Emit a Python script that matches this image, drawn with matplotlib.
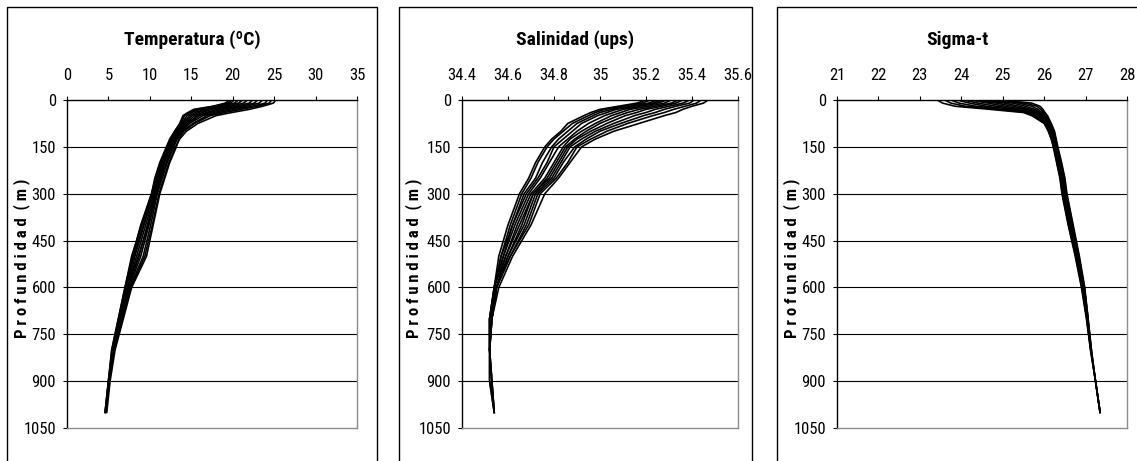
import numpy as np
import matplotlib
matplotlib.use("Agg")
import matplotlib.pyplot as plt
from matplotlib.patches import Rectangle

plt.rcParams["font.family"] = ["Liberation Sans Narrow", "Roboto Condensed", "Liberation Sans", "DejaVu Sans"]

nan = np.nan

# depth levels (m) shared by every cast
depth = [0, 10, 20, 30, 40, 50, 75, 100, 125, 150, 200, 250, 300, 400, 500, 600, 700, 800, 900, 1000]

# temperature (ºC), one list per cast
temp_a = [25.2, 24.9, 23.6, 22.0, 19.9, 18.0, 15.8, 14.4, 13.6, 13.1, 12.3, 11.7, 11.1, 10.3, 9.4, 7.7, 6.7, 5.7, 5.1, 4.7]
temp_b = [24.7, 24.4, 23.0, 21.0, 19.0, 17.3, 15.4, 14.1, 13.5, 13.2, 12.4, 11.8, 11.2, 10.4, 9.6, 7.8, 6.8, 5.8, 5.2, 4.8]
temp_c = [24.2, 23.9, 22.4, 20.2, 18.3, 16.9, 15.2, 13.9, 13.3, 12.9, 12.1, 11.5, 10.9, 10.1, 9.2, 7.6, 6.6, 5.6, 5.0, 4.6]
temp_d = [23.6, 23.2, 21.6, 19.4, 17.7, 16.4, 14.8, 13.8, 13.2, 12.8, 12.0, 11.4, 10.8, 9.9, 8.9, 7.5, 6.5, 5.6, nan, nan]
temp_e = [23.0, 22.6, 21.0, 18.7, 17.2, 16.0, 14.6, 13.7, 13.1, 12.7, 12.0, 11.3, 10.7, 9.7, 8.7, 7.4, 6.5, nan, nan, nan]
temp_f = [22.4, 22.0, 20.3, 18.1, 16.8, 15.7, 14.5, 13.5, 13.0, 12.6, 11.8, 11.2, 10.7, 9.8, 8.6, 7.3, 6.4, 5.5, nan, nan]
temp_g = [21.8, 21.3, 19.7, 17.5, 16.3, 15.4, 14.3, 13.4, 12.9, 12.5, 11.7, 11.1, 10.6, 9.5, 8.4, 7.3, 6.4, nan, nan, nan]
temp_h = [21.2, 20.7, 19.1, 17.0, 15.9, 15.1, 14.1, 13.3, 12.8, 12.4, 11.6, 11.0, 10.5, 9.3, 8.2, 7.2, 6.3, 5.5, nan, nan]
temp_i = [20.7, 20.2, 18.6, 16.5, 15.5, 14.8, 13.9, 13.2, 12.7, 12.3, 11.5, 10.9, 10.4, 9.2, 8.1, 7.1, nan, nan, nan, nan]
temp_j = [20.2, 19.7, 18.1, 16.0, 15.1, 14.5, 13.8, 13.1, 12.6, 12.2, 11.4, 10.8, 10.3, 9.0, 8.0, 7.1, 6.3, nan, nan, nan]
temp_k = [19.9, 19.4, 17.8, 15.6, 14.8, 14.2, 13.7, 13.0, 12.5, 12.1, 11.3, 10.7, 10.2, 8.9, 7.9, 7.0, 6.2, 5.4, 5.0, 4.6]
temp_l = [19.6, 19.1, 17.6, 15.3, 14.6, 14.0, 13.6, 13.0, 12.4, 12.0, 11.2, 10.6, 10.2, 9.0, 7.8, 7.0, 6.2, 5.4, 5.0, 4.6]

# salinity (ups)
sal_a = [35.47, 35.45, 35.40, 35.36, 35.33, 35.28, 35.17, 35.06, 34.98, 34.92, 34.87, 34.82, 34.76, 34.70, 34.62, 34.56, 34.53, 34.52, 34.53, 34.54]
sal_b = [35.44, 35.42, 35.37, 35.32, 35.28, 35.23, 35.12, 35.03, 34.96, 34.90, 34.86, 34.81, 34.74, 34.69, 34.61, 34.55, 34.53, 34.52, 34.52, 34.54]
sal_c = [35.41, 35.39, 35.33, 35.28, 35.24, 35.19, 35.09, 35.00, 34.94, 34.89, 34.84, 34.80, 34.73, 34.68, 34.61, 34.55, 34.52, 34.52, 34.52, 34.54]
sal_d = [35.39, 35.36, 35.30, 35.24, 35.20, 35.15, 35.06, 34.98, 34.92, 34.87, 34.83, 34.79, 34.72, 34.67, 34.60, 34.55, 34.53, 34.52, nan, nan]
sal_e = [35.36, 35.33, 35.27, 35.20, 35.16, 35.11, 35.03, 34.96, 34.90, 34.86, 34.82, 34.78, 34.71, 34.66, 34.60, 34.55, 34.53, nan, nan, nan]
sal_f = [35.34, 35.31, 35.24, 35.17, 35.12, 35.08, 35.00, 34.94, 34.89, 34.85, 34.81, 34.77, 34.71, 34.65, 34.59, 34.55, 34.53, 34.52, nan, nan]
sal_g = [35.31, 35.28, 35.21, 35.13, 35.09, 35.05, 34.98, 34.92, 34.87, 34.84, 34.80, 34.76, 34.70, 34.64, 34.59, 34.54, 34.53, nan, nan, nan]
sal_h = [35.29, 35.25, 35.18, 35.10, 35.06, 35.02, 34.95, 34.90, 34.86, 34.82, 34.78, 34.74, 34.69, 34.63, 34.58, 34.54, 34.52, 34.52, nan, nan]
sal_i = [35.27, 35.23, 35.15, 35.07, 35.03, 34.99, 34.92, 34.88, 34.84, 34.80, 34.77, 34.73, 34.68, 34.62, 34.58, 34.54, nan, nan, nan, nan]
sal_j = [35.25, 35.21, 35.13, 35.05, 35.00, 34.97, 34.90, 34.86, 34.82, 34.79, 34.75, 34.72, 34.67, 34.62, 34.57, 34.54, 34.53, nan, nan, nan]
sal_k = [35.22, 35.18, 35.10, 35.02, 34.98, 34.95, 34.88, 34.84, 34.80, 34.77, 34.73, 34.70, 34.66, 34.61, 34.57, 34.54, 34.52, 34.52, 34.53, 34.54]
sal_l = [35.20, 35.16, 35.08, 35.00, 34.96, 34.93, 34.86, 34.83, 34.79, 34.76, 34.72, 34.69, 34.65, 34.60, 34.56, 34.54, 34.52, 34.52, 34.53, 34.54]

# sigma-t
sig_a = [23.42, 23.55, 23.85, 24.70, 25.50, 25.70, 26.00, 26.10, 26.17, 26.22, 26.30, 26.38, 26.43, 26.58, 26.75, 26.90, 27.02, 27.12, 27.24, 27.35]
sig_b = [23.60, 23.75, 24.10, 24.90, 25.57, 25.75, 26.02, 26.11, 26.18, 26.23, 26.31, 26.39, 26.44, 26.59, 26.76, 26.91, 27.03, 27.12, 27.24, 27.35]
sig_c = [23.75, 23.95, 24.35, 25.05, 25.63, 25.79, 26.04, 26.13, 26.19, 26.24, 26.32, 26.40, 26.45, 26.60, 26.77, 26.92, 27.03, 27.13, 27.24, 27.35]
sig_d = [23.90, 24.20, 24.60, 25.20, 25.69, 25.83, 26.06, 26.14, 26.20, 26.25, 26.33, 26.41, 26.46, 26.61, 26.78, 26.93, 27.04, 27.13, nan, nan]
sig_e = [24.05, 24.40, 24.85, 25.35, 25.74, 25.87, 26.08, 26.16, 26.21, 26.26, 26.34, 26.42, 26.47, 26.62, 26.79, 26.93, 27.04, nan, nan, nan]
sig_f = [24.20, 24.65, 25.05, 25.48, 25.79, 25.90, 26.09, 26.17, 26.22, 26.27, 26.35, 26.43, 26.48, 26.63, 26.80, 26.94, 27.05, 27.13, nan, nan]
sig_g = [24.30, 24.85, 25.25, 25.58, 25.83, 25.94, 26.10, 26.18, 26.23, 26.28, 26.36, 26.44, 26.49, 26.64, 26.80, 26.95, 27.05, nan, nan, nan]
sig_h = [24.45, 25.05, 25.40, 25.68, 25.87, 25.97, 26.12, 26.20, 26.24, 26.29, 26.37, 26.45, 26.50, 26.65, 26.81, 26.95, 27.05, 27.14, nan, nan]
sig_i = [24.55, 25.25, 25.55, 25.77, 25.91, 26.00, 26.13, 26.21, 26.25, 26.30, 26.38, 26.46, 26.51, 26.66, 26.82, 26.96, nan, nan, nan, nan]
sig_j = [24.70, 25.40, 25.70, 25.85, 25.95, 26.03, 26.14, 26.22, 26.26, 26.31, 26.39, 26.47, 26.52, 26.67, 26.83, 26.97, 27.06, nan, nan, nan]
sig_k = [24.82, 25.55, 25.82, 25.92, 25.99, 26.06, 26.16, 26.24, 26.28, 26.32, 26.41, 26.49, 26.54, 26.69, 26.84, 26.97, 27.06, 27.14, 27.24, 27.35]
sig_l = [24.94, 25.70, 25.90, 25.97, 26.02, 26.08, 26.17, 26.25, 26.29, 26.33, 26.42, 26.50, 26.55, 26.70, 26.85, 26.98, 27.06, 27.14, 27.24, 27.35]

temps = [temp_a, temp_b, temp_c, temp_d, temp_e, temp_f, temp_g, temp_h, temp_i, temp_j, temp_k, temp_l]
sals = [sal_a, sal_b, sal_c, sal_d, sal_e, sal_f, sal_g, sal_h, sal_i, sal_j, sal_k, sal_l]
sigmas = [sig_a, sig_b, sig_c, sig_d, sig_e, sig_f, sig_g, sig_h, sig_i, sig_j, sig_k, sig_l]

titles = ["Temperatura (ºC)", "Salinidad (ups)", "Sigma-t"]
xticks = [
    [0, 5, 10, 15, 20, 25, 30, 35],
    [34.4, 34.6, 34.8, 35.0, 35.2, 35.4, 35.6],
    [21, 22, 23, 24, 25, 26, 27, 28],
]
xtick_labels = [
    ["0", "5", "10", "15", "20", "25", "30", "35"],
    ["34.4", "34.6", "34.8", "35", "35.2", "35.4", "35.6"],
    ["21", "22", "23", "24", "25", "26", "27", "28"],
]
yticks = [0, 150, 300, 450, 600, 750, 900, 1050]
# the original label is letter-spaced
ylabel = "P r o f u n d i d a d  ( m )"

W, H = 1137, 461
fig = plt.figure(figsize=(W / 100, H / 100), dpi=100)

# pixel layout: (box left, box right, plot left, plot right)
layout = [(7, 377, 67, 357), (399, 752, 462, 738), (777, 1140, 837, 1127)]
plot_top, plot_bottom = 100, 428

for i, (series, (bl, br, pl, pr)) in enumerate(zip([temps, sals, sigmas], layout)):
    # chart frame (bottom edge runs past the image)
    fig.patches.append(Rectangle((bl / W, -0.05), (br - bl) / W, 1.05 - 7 / H,
                                 transform=fig.transFigure, fill=False,
                                 edgecolor="black", linewidth=1.0))
    ax = fig.add_axes([pl / W, 1 - plot_bottom / H, (pr - pl) / W, (plot_bottom - plot_top) / H])
    for prof in series:
        ax.plot(prof, depth, color="black", linewidth=1.2)
    ax.set_xlim(xticks[i][0], xticks[i][-1])
    ax.set_ylim(1050, 0)
    ax.xaxis.tick_top()
    ax.set_xticks(xticks[i])
    ax.set_xticklabels(xtick_labels[i])
    ax.set_yticks(yticks)
    ax.tick_params(axis="both", labelsize=12, length=3, width=0.8, color="black")
    ax.tick_params(axis="x", pad=9)
    ax.tick_params(axis="y", pad=5)
    for y in yticks[1:-1]:
        ax.axhline(y, color="black", linewidth=0.8, zorder=0)
    ax.spines["top"].set_color("black")
    ax.spines["left"].set_color("black")
    ax.spines["right"].set_color("#8c8c8c")
    ax.spines["bottom"].set_color("#8c8c8c")
    for s in ax.spines.values():
        s.set_linewidth(1.0)
    fig.text((bl + 15) / W, 1 - 258 / H, ylabel, rotation=90, ha="center", va="center",
             fontsize=12, fontweight="bold")
    fig.text((bl + min(br, W)) / 2 / W, 1 - 40 / H, titles[i], ha="center", va="center",
             fontsize=14, fontweight="bold")

fig.savefig("out.png", dpi=100)
